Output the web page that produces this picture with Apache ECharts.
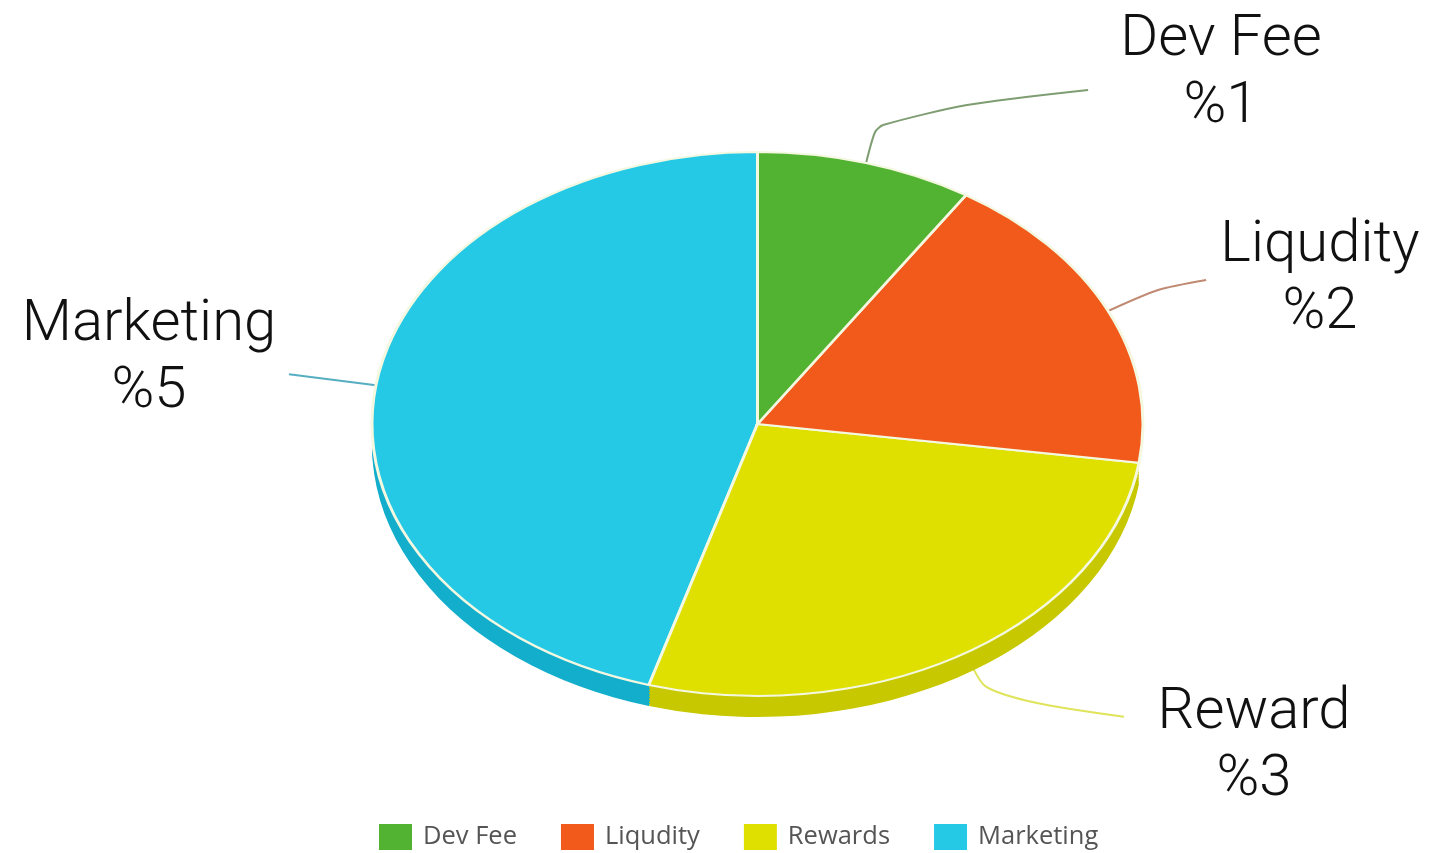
<!DOCTYPE html>
<html>
<head>
<meta charset="utf-8">
<style>html,body{margin:0;padding:0;background:#fff}#c{width:1452px;height:853px}</style>
<script src="https://cdn.jsdelivr.net/npm/echarts@6/dist/echarts.min.js"></script>
</head>
<body>
<div id="c"></div>
<script>
const categories = ['Dev Fee', 'Liqudity', 'Rewards', 'Marketing'];
const calloutNames = ['Dev Fee', 'Liqudity', 'Reward', 'Marketing'];
const values = [1, 2, 3, 5];
const topColors = ['#52b231', '#f15a1a', '#dfdf00', '#25c9e6'];
const sideColors = [null, null, '#c8c800', '#13aecb'];
const lineColors = ['#7f9d72', '#c08a72', '#dfe45a', '#55aec2'];

// pie geometry
const CX = 757.5, CY = 424, RX = 385.5, RY = 272, DEPTH = 21, DEPTH_STEP = 3;
// leader-line bends, relative to the slice's rim point
const leaderBends = [
  [[0, 0], [9, -31], [17, -38], [101, -58], [222, -73]],
  [[0, 0], [50, -21], [98, -31]],
  [[0, 0], [19, 33], [70, 50], [158, 64]],
  [[0, 0], [-87, -11]]
];
const labelCenters = [[1221, 74], [1320, 280], [1254, 747], [149, 359]];

const total = values.reduce((a, b) => a + b, 0);
const starts = values.map((_, i) => values.slice(0, i).reduce((a, b) => a + b, 0) / total * Math.PI * 2);
const ends = values.map((_, i) => values.slice(0, i + 1).reduce((a, b) => a + b, 0) / total * Math.PI * 2);

function sector(i, dy, fill, stroke) {
  return {
    type: 'sector',
    x: CX, y: CY + dy, scaleY: RY / RX,
    shape: { cx: 0, cy: 0, r0: 0, r: RX, startAngle: starts[i] - Math.PI / 2, endAngle: ends[i] - Math.PI / 2, clockwise: true },
    style: { fill: fill, stroke: stroke, lineWidth: stroke ? 3 : 0 },
    z2: 4 - i
  };
}
function rim(i) {
  const m = (starts[i] + ends[i]) / 2;
  return [CX + RX * Math.sin(m), CY - RY * Math.cos(m)];
}

const underSeries = {
  type: 'custom', name: 'depth', coordinateSystem: 'none', silent: true, z: 1,
  data: values.map((v, i) => ({ value: v, name: categories[i] })),
  renderItem: function (params) {
    const i = params.dataIndex, a = rim(i), children = [];
    children.push({
      type: 'polyline', z2: 0,
      shape: { points: leaderBends[i].map(p => [a[0] + p[0], a[1] + p[1]]), smooth: 0.25 },
      style: { fill: null, stroke: lineColors[i], lineWidth: 2 }
    });
    if (sideColors[i]) {
      for (let d = DEPTH; d > 0; d -= DEPTH_STEP) children.push(sector(i, d, sideColors[i]));
    }
    return { type: 'group', children: children };
  }
};
const topSeries = categories.map((name, i) => ({
  type: 'custom', name: name, coordinateSystem: 'none', silent: true, z: 2,
  itemStyle: { color: topColors[i] },
  data: [{ value: values[i], name: name }],
  renderItem: function () { return sector(i, 0, topColors[i], '#f4f8e0'); }
}));

const chart = echarts.init(document.getElementById('c'), null, { renderer: 'canvas' });
chart.setOption({
  animation: false,
  backgroundColor: '#fff',
  tooltip: { show: false },
  legend: {
    data: categories, left: 379, top: 824, padding: 0, itemWidth: 33, itemHeight: 26, itemGap: 44,
    icon: 'rect', selectedMode: false,
    textStyle: { fontFamily: '"Open Sans"', fontSize: 25.5, color: '#555', padding: [7, 0, 0, 6] }
  },
  graphic: calloutNames.map((n, i) => ({
    type: 'text', x: labelCenters[i][0], y: labelCenters[i][1], z: 10,
    style: {
      text: n + '\n%' + values[i], align: 'center', verticalAlign: 'middle',
      fontFamily: 'Roboto', fontWeight: 300, fontSize: 58, lineHeight: 67, fill: '#111'
    }
  })),
  series: [underSeries].concat(topSeries)
});
</script>
</body>
</html>
